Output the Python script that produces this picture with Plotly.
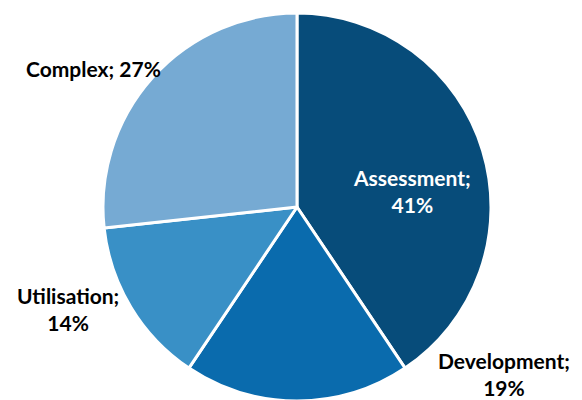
import plotly.graph_objects as go

labels = ["Assessment", "Development", "Utilisation", "Complex"]
values = [41, 19, 14, 27]
colors = ["#074C7A", "#0A6BAD", "#3990C6", "#76AAD3"]

fig = go.Figure(go.Pie(
    labels=labels, values=values, sort=False, direction="clockwise", rotation=0,
    marker=dict(colors=colors, line=dict(color="white", width=3)),
    textinfo="none", hoverinfo="label+value", showlegend=False,
    domain=dict(x=[0.1632, 0.8299], y=[0.0175, 0.9875]),
))

# label placement in page pixels: (x, y, line break, text color)
label_pos = {
    "Assessment": (412, 191, True, "white"),
    "Development": (504, 374, True, "black"),
    "Utilisation": (68, 309, True, "black"),
    "Complex": (93, 68, False, "black"),
}
W, H = 582, 400
OFF = 8  # body margin of the page
for lab, val in zip(labels, values):
    x, y, brk, col = label_pos[lab]
    sep = ";<br>" if brk else "; "
    fig.add_annotation(
        x=(x - OFF) / W, y=1 - (y - OFF) / H, xref="paper", yref="paper",
        xanchor="center", yanchor="middle",
        text=f"<b>{lab}{sep}{val}%</b>", showarrow=False,
        font=dict(family="Lato", size=21, color=col), align="center",
    )

fig.update_layout(width=W, height=H, margin=dict(l=0, r=0, t=0, b=0),
                  paper_bgcolor="white", plot_bgcolor="white")
fig.write_html("out.html")
